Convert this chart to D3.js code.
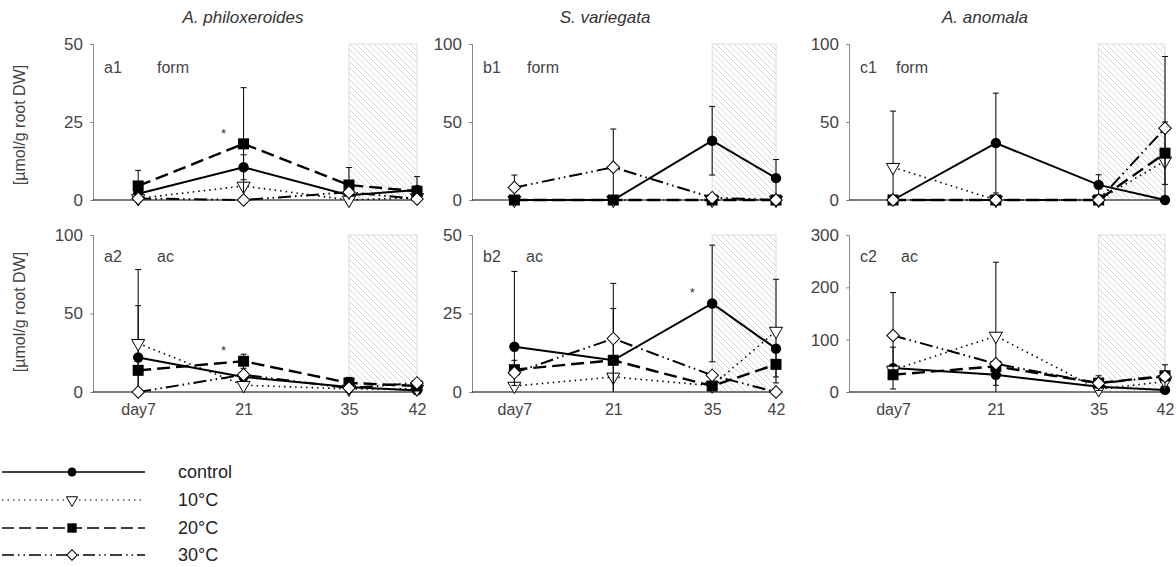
<!DOCTYPE html>
<html>
<head>
<meta charset="utf-8">
<script src="https://cdn.jsdelivr.net/npm/d3@7"></script>
<style>
  body { margin: 0; background: #fff; }
  text { font-family: "Liberation Sans", Arial, sans-serif; }
</style>
</head>
<body>
<script>
  var w = 1176;
  var h = 567;

  var days = [7, 21, 35, 42];
  var seriesNames = ["control", "10°C", "20°C", "30°C"];
  var species = ["A. philoxeroides", "S. variegata", "A. anomala"];

  // means: one row per series (control, 10, 20, 30), one value per day
  var a1Mean = [[2, 10.5, 1.5, 3.2], [0.5, 4.5, 0, 0.8], [4.5, 18, 4.8, 2.8], [0.5, 0, 2.5, 0.3]];
  var a1Sd   = [[0, 4, 0, 4.3], [0, 0, 0, 0], [5, 18, 5.6, 0], [0, 0, 0, 0]];
  var b1Mean = [[0, 0, 38, 14], [0, 0, 0, 0], [0, 0, 0, 0], [8, 21, 1.5, 0]];
  var b1Sd   = [[0, 0, 22, 12], [0, 0, 0, 0], [0, 0, 0, 0], [8, 24.5, 0, 0]];
  var c1Mean = [[0, 36.5, 9.7, 0], [21, 0, 0, 25], [0, 0, 0, 30], [0, 0, 0, 46]];
  var c1Sd   = [[0, 32, 6.5, 0], [36, 0, 0, 0], [0, 0, 0, 20], [0, 0, 0, 46]];
  var a2Mean = [[22, 9.6, 3.2, 1], [31, 4.3, 2, 2], [13.8, 19.6, 5.8, 3.8], [0, 11, 2.5, 5.8]];
  var a2Sd   = [[33, 0, 0, 0], [47, 0, 0, 0], [0, 4.5, 3.5, 0], [0, 0, 0, 0]];
  var b2Mean = [[14.4, 10.1, 28.2, 13.8], [1.9, 4.8, 2, 19.4], [7.1, 10.1, 1.9, 8.8], [6.1, 17, 5.3, 0]];
  var b2Sd   = [[24, 0, 18.6, 0], [0, 0, 0, 16.5], [0, 16.5, 0, 4], [4, 17.6, 0, 0]];
  var c2Mean = [[45.7, 32.8, 10, 4], [42, 107, 5, 20], [33, 49, 17, 31], [108, 54, 16.7, 29.6]];
  var c2Sd   = [[40, 20, 0, 0], [0, 141, 0, 0], [0, 0, 14, 21], [82, 0, 0, 0]];

  var yTicks = [[0, 25, 50], [0, 50, 100], [0, 50, 100], [0, 50, 100], [0, 25, 50], [0, 100, 200, 300]];
  var panelIds = ["a1", "b1", "c1", "a2", "b2", "c2"];
  var panelTypes = ["form", "form", "form", "ac", "ac", "ac"];
  var starDay = [21, null, null, 21, 35, null];

  var means = [a1Mean, b1Mean, c1Mean, a2Mean, b2Mean, c2Mean];
  var sds = [a1Sd, b1Sd, c1Sd, a2Sd, b2Sd, c2Sd];

  var colX = [93, 472, 849];
  var colW = [324, 304, 316];
  var typeOff = [[64, 55, 47], [64, 54, 52]];
  var rowTop = [44, 235];
  var rowBot = [200, 392];

  var dashes = [null, "1.5,4", "13,6", "13,4,1.5,4,1.5,4"];
  var widths = [2, 1.6, 2.4, 2];

  var svg = d3.select("body").append("svg")
    .attr("width", w)
    .attr("height", h);

  var defs = svg.append("defs");
  var pat = defs.append("pattern")
    .attr("id", "hatch")
    .attr("patternUnits", "userSpaceOnUse")
    .attr("width", 6)
    .attr("height", 6);
  pat.append("path")
    .attr("d", "M0,0 L6,6 M-1,5 L1,7 M5,-1 L7,1")
    .attr("stroke", "#c8c8c8")
    .attr("stroke-width", 0.8);

  function marker(g, k, x, y, sc) {
    sc = sc || 1;
    if (k == 0) {
      g.append("circle").attr("cx", x).attr("cy", y).attr("r", 5.2 * sc).attr("fill", "#000");
    } else if (k == 1) {
      g.append("path")
        .attr("d", d3.symbol().type(d3.symbolTriangle).size(75 * sc * sc)())
        .attr("transform", "translate(" + x + "," + y + ") rotate(180)")
        .attr("fill", "#fff").attr("stroke", "#000").attr("stroke-width", 1);
    } else if (k == 2) {
      g.append("rect").attr("x", x - 5.5 * sc).attr("y", y - 5.5 * sc)
        .attr("width", 11 * sc).attr("height", 11 * sc).attr("fill", "#000");
    } else {
      g.append("path")
        .attr("d", d3.symbol().type(d3.symbolSquare).size(78 * sc * sc)())
        .attr("transform", "translate(" + x + "," + y + ") rotate(45)")
        .attr("fill", "#fff").attr("stroke", "#000").attr("stroke-width", 1);
    }
  }

  panelIds.forEach(function (id, p) {
    var col = p % 3;
    var row = Math.floor(p / 3);
    var x0 = colX[col];
    var pw = colW[col];
    var ticks = yTicks[p];

    var xScale = d3.scaleLinear()
      .domain([1, 35, 42])
      .range([x0, x0 + 0.79 * pw, x0 + pw]);
    var yScale = d3.scaleLinear()
      .domain([0, ticks[ticks.length - 1]])
      .range([rowBot[row], rowTop[row]]);

    var g = svg.append("g");

    // shaded period
    g.append("rect")
      .attr("x", xScale(35))
      .attr("y", rowTop[row])
      .attr("width", xScale(42) - xScale(35))
      .attr("height", rowBot[row] - rowTop[row])
      .attr("fill", "url(#hatch)")
      .attr("stroke", "#dcdcdc")
      .attr("stroke-width", 1);

    var yAxis = g.append("g")
      .attr("transform", "translate(" + x0 + ",0)")
      .call(d3.axisLeft(yScale).tickValues(ticks).tickSize(3).tickPadding(7));
    yAxis.select(".domain").attr("stroke", "#888");
    yAxis.selectAll(".tick line").attr("stroke", "#888");
    yAxis.selectAll("text")
      .attr("font-size", 17)
      .attr("fill", "#444")
      .attr("font-family", "Liberation Sans, Arial, sans-serif");

    var xAxis = g.append("g")
      .attr("transform", "translate(0," + rowBot[row] + ")")
      .call(d3.axisBottom(xScale).tickValues(days).tickSize(0).tickPadding(12)
        .tickFormat(function (d) { return d == 7 ? "day7" : d; }));
    xAxis.select(".domain").attr("d", "M" + x0 + ",0H" + (x0 + pw)).attr("stroke", "#000");
    xAxis.selectAll("text")
      .attr("font-size", 16)
      .attr("fill", "#444")
      .attr("font-family", "Liberation Sans, Arial, sans-serif");
    if (row == 0) xAxis.selectAll("text").remove();

    g.append("text")
      .attr("x", x0 + 11)
      .attr("y", row == 0 ? 73 : 262)
      .attr("font-size", 16)
      .attr("fill", "#444")
      .text(id);
    g.append("text")
      .attr("x", x0 + typeOff[row][col])
      .attr("y", row == 0 ? 73 : 262)
      .attr("font-size", 16)
      .attr("fill", "#444")
      .text(panelTypes[p]);

    if (starDay[p] != null) {
      var si = days.indexOf(starDay[p]);
      var top = d3.max(means[p], function (s) { return s[si]; });
      g.append("text")
        .attr("x", xScale(starDay[p]) - 20)
        .attr("y", yScale(top) - 6)
        .attr("text-anchor", "middle")
        .attr("font-size", 13)
        .attr("fill", "#333")
        .text("*");
    }

    var line = d3.line()
      .x(function (d, i) { return xScale(days[i]); })
      .y(function (d) { return yScale(d); });

    means[p].forEach(function (vals, k) {
      var sg = g.append("g");
      vals.forEach(function (v, i) {
        var sd = sds[p][k][i];
        if (!sd) return;
        var xx = xScale(days[i]);
        var lo = Math.max(0, v - sd);
        sg.append("line")
          .attr("x1", xx).attr("x2", xx)
          .attr("y1", yScale(lo)).attr("y2", yScale(v + sd))
          .attr("stroke", "#000").attr("stroke-width", 1);
        sg.append("line")
          .attr("x1", xx - 3).attr("x2", xx + 3)
          .attr("y1", yScale(v + sd)).attr("y2", yScale(v + sd))
          .attr("stroke", "#000").attr("stroke-width", 1);
        if (lo > 0) {
          sg.append("line")
            .attr("x1", xx - 3).attr("x2", xx + 3)
            .attr("y1", yScale(lo)).attr("y2", yScale(lo))
            .attr("stroke", "#000").attr("stroke-width", 1);
        }
      });
      sg.append("path")
        .attr("d", line(vals))
        .attr("fill", "none")
        .attr("stroke", "#000")
        .attr("stroke-width", widths[k])
        .attr("stroke-dasharray", dashes[k]);
      vals.forEach(function (v, i) {
        marker(sg, k, xScale(days[i]), yScale(v));
      });
    });
  });

  species.forEach(function (s, i) {
    svg.append("text")
      .attr("x", [243, 605, 985][i])
      .attr("y", 23)
      .attr("text-anchor", "middle")
      .attr("font-size", 17)
      .attr("font-style", "italic")
      .attr("fill", "#333")
      .text(s);
  });

  [125, 312].forEach(function (cy) {
    svg.append("text")
      .attr("transform", "translate(25," + cy + ") rotate(-90)")
      .attr("text-anchor", "middle")
      .attr("font-size", 16)
      .attr("fill", "#444")
      .text("[µmol/g root DW]");
  });

  // legend
  var legY = [472, 500, 528, 555];
  var legDash = [null, "1.5,4", "12,5", "12,4,1.5,4,1.5,4"];
  seriesNames.forEach(function (name, k) {
    var lg = svg.append("g");
    lg.append("line")
      .attr("x1", 2).attr("x2", 145)
      .attr("y1", legY[k]).attr("y2", legY[k])
      .attr("stroke", "#000")
      .attr("stroke-width", k == 1 ? 1.2 : 1.5)
      .attr("stroke-dasharray", legDash[k]);
    marker(lg, k, 72, legY[k], 0.85);
    lg.append("text")
      .attr("x", 178)
      .attr("y", legY[k])
      .attr("dy", "0.35em")
      .attr("font-size", 18)
      .attr("fill", "#222")
      .text(name);
  });
</script>
</body>
</html>
